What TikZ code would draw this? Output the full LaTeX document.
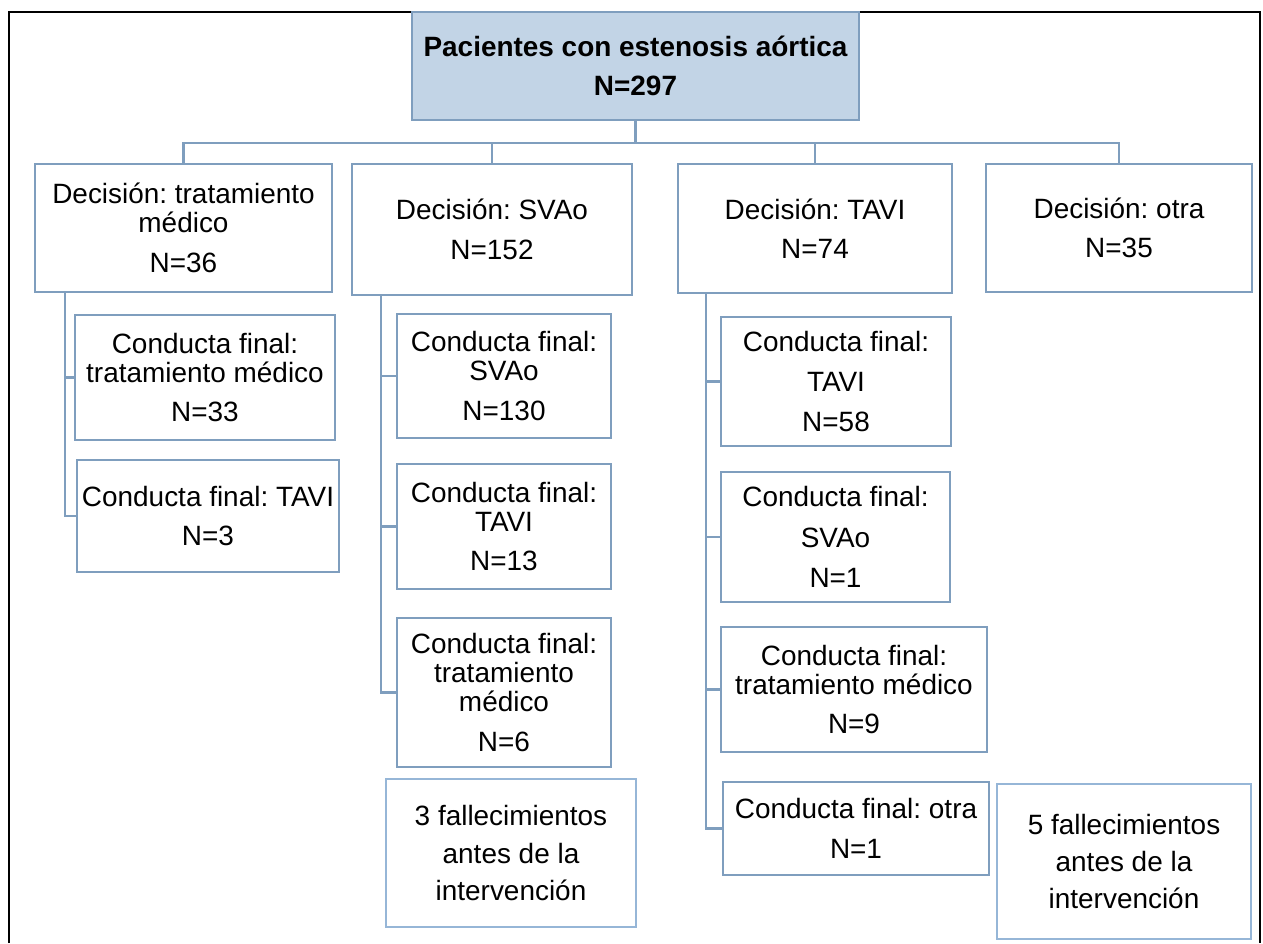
\documentclass[tikz,border=0pt]{standalone}
\usepackage{fontspec}
\setmainfont{Liberation Sans}
\usepackage{tikz}
\frenchspacing
\definecolor{boxline}{RGB}{127,158,190}
\definecolor{topfill}{RGB}{194,212,230}
\definecolor{deathline}{RGB}{150,182,215}

\begin{document}
\begin{tikzpicture}[x=0.02cm,y=-0.02cm,
  box/.style={draw=boxline,line width=1.5pt,inner sep=0pt,outer sep=0pt,align=center,
    font=\fontsize{15.9}{16.5}\selectfont},
  dims/.style 2 args={minimum width=#1*0.02cm,minimum height=#2*0.02cm},
  death/.style={box,draw=deathline},
  link/.style={draw=boxline,line width=1.5pt}]
\useasboundingbox (0,0) rectangle (1263,943);
\draw[line width=0.9pt] (9,943) -- (9,12) -- (1260,12) -- (1260,943);
\node[box,fill=topfill,font=\fontsize{15.9}{16.5}\selectfont\bfseries,dims={447}{108}] (top) at (635.5,66)
 {Pacientes con estenosis aórtica\\[6pt]N=297};
\node[box,dims={297}{128}] (d1) at (183.5,228) {Decisión: tratamiento\\médico\\[6pt]N=36};
\node[box,dims={280}{131}] (d2) at (492,229.5) {Decisión: SVAo\\[6pt]N=152};
\node[box,dims={274}{129}] (d3) at (815,228.5) {Decisión: TAVI\\[6pt]N=74};
\node[box,dims={266}{128}] (d4) at (1119,228) {Decisión: otra\\[6pt]N=35};
\coordinate (bus) at (635.5,143);
\draw[link] (top.south) -- (bus);
\foreach \n in {d1,d2,d3,d4} \draw[link] (\n.north) |- (bus);
\node[box,dims={260}{125}] (c1a) at (205,377.5) {Conducta final:\\tratamiento médico\\[6pt]N=33};
\node[box,dims={262}{112}] (c1b) at (208,516) {Conducta final: TAVI\\[6pt]N=3};
\coordinate (s1) at (65,292);
\foreach \n in {c1a,c1b} \draw[link] (s1) |- (\n.west);
\node[box,dims={214}{124}] (c2a) at (504,376) {Conducta final:\\SVAo\\[6pt]N=130};
\node[box,dims={214}{125}] (c2b) at (504,526.5) {Conducta final:\\TAVI\\[6pt]N=13};
\node[box,dims={214}{149}] (c2c) at (504,692.5) {Conducta final:\\tratamiento\\médico\\[6pt]N=6};
\node[death,dims={250}{148}] (f2) at (511,853) {3 fallecimientos\\[4.8pt]antes de la\\[4.8pt]intervención};
\coordinate (s2) at (381,295);
\foreach \n in {c2a,c2b,c2c} \draw[link] (s2) |- (\n.west);
\node[box,dims={230}{129}] (c3a) at (836,381.5) {Conducta final:\\[6.5pt]TAVI\\[6.5pt]N=58};
\node[box,dims={229}{130}] (c3b) at (835.5,537) {Conducta final:\\[6.5pt]SVAo\\[6.5pt]N=1};
\node[box,dims={266}{125}] (c3c) at (854,689.5) {Conducta final:\\tratamiento médico\\[6pt]N=9};
\node[box,dims={266}{93}] (c3d) at (856,828.5) {Conducta final: otra\\[6pt]N=1};
\node[death,dims={254}{155}] (f3) at (1124,861.5) {5 fallecimientos\\[4.8pt]antes de la\\[4.8pt]intervención};
\coordinate (s3) at (706,293);
\foreach \n in {c3a,c3b,c3c,c3d} \draw[link] (s3) |- (\n.west);
\end{tikzpicture}
\end{document}
